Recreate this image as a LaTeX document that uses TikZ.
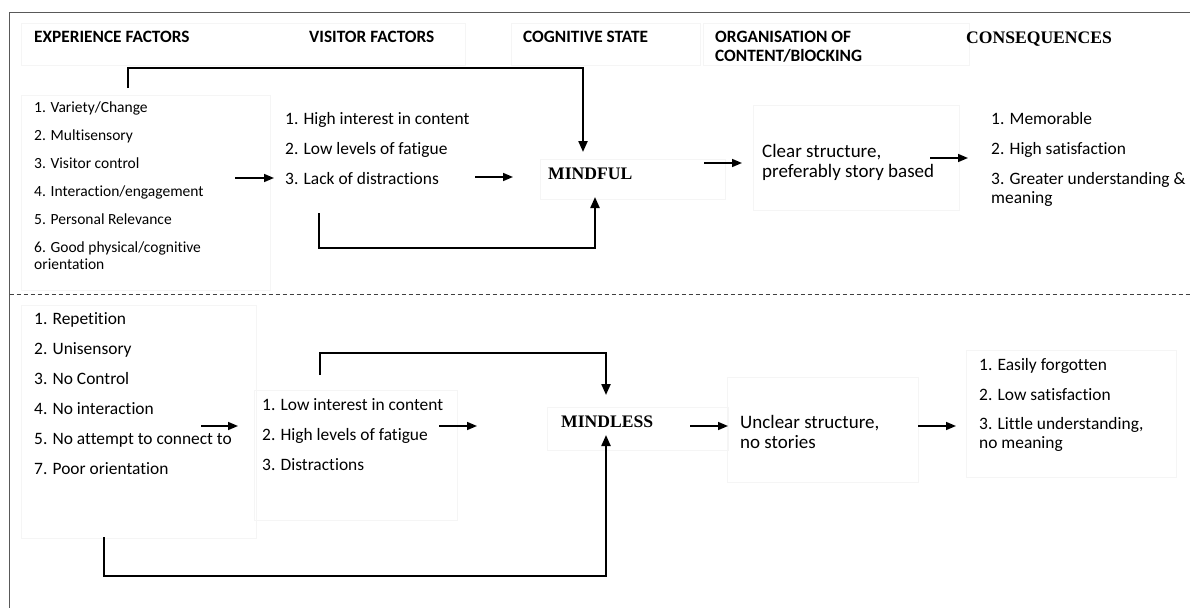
\documentclass[tikz,border=0pt]{standalone}
\usepackage{fontspec}
\setmainfont{Carlito}[Ligatures=NoCommon]
\newfontfamily\tnr{Liberation Serif}
\usetikzlibrary{arrows.meta}
\begin{document}
\begin{tikzpicture}[x=1pt,y=-1pt,
  txt/.style={anchor=base west,inner sep=0pt,font=\fontsize{17.4}{20}\selectfont},
  smtxt/.style={anchor=base west,inner sep=0pt,font=\fontsize{15.5}{18}\selectfont},
  bigtxt/.style={anchor=base west,inner sep=0pt,font=\fontsize{19}{22}\selectfont},
  hdr/.style={anchor=base west,inner sep=0pt,font=\fontsize{17.3}{20}\selectfont\bfseries},
  serifhdr/.style={anchor=base west,inner sep=0pt,font=\fontsize{17.6}{20}\selectfont\tnr\bfseries},
  faint/.style={draw=black!4,line width=0.6pt},
  frame/.style={draw=black!65,line width=1.4pt},
  arr/.style={draw=black,line width=1.6pt,-{Triangle[length=10pt,width=8pt]}},
  looparr/.style={draw=black,line width=2.2pt,-{Triangle[length=11pt,width=9pt]}}
]
\useasboundingbox (0,0) rectangle (1190,608);
% frame
\draw[frame] (1190,12.5) -- (9.5,12.5) -- (9.5,608);
\draw[black!75,line width=0.9pt,dash pattern=on 4pt off 3pt] (9.5,294) -- (1190,294);

% faint boxes
\draw[faint] (21,23) rectangle (465,65);
\draw[faint] (511,23) rectangle (700,65);
\draw[faint] (703,23) rectangle (969,65);
\draw[faint] (21,95) rectangle (270,290);
\draw[faint] (540,159) rectangle (725,199);
\draw[faint] (753,105) rectangle (959,210);
\draw[faint] (21,305) rectangle (256,538);
\draw[faint] (254,390) rectangle (457,520);
\draw[faint] (547,407) rectangle (728,450);
\draw[faint] (727,377) rectangle (918,482);
\draw[faint] (966,350) rectangle (1176,477);

% headers
\node[hdr] (h1) at (34,42.5) {EXPERIENCE FACTORS};
\node[hdr] (h2) at (309,42.5) {VISITOR FACTORS};
\node[hdr] (h3) at (523,42.5) {COGNITIVE STATE};
\node[hdr] (h4) at (715,42.5) {ORGANISATION OF};
\node[hdr] (h4b) at (715,61.5) {CONTENT/BlOCKING};
\node[serifhdr] (h5) at (966,43) {CONSEQUENCES};

% top: experience factors
\node[smtxt] (e1) at (34,112) {1. Variety/Change};
\node[smtxt] (e2) at (34,140) {2. Multisensory};
\node[smtxt] (e3) at (34,168) {3. Visitor control};
\node[smtxt] (e4) at (34,196) {4. Interaction/engagement};
\node[smtxt] (e5) at (34,224) {5. Personal Relevance};
\node[smtxt] (e6) at (34,252) {6. Good physical/cognitive};
\node[smtxt] (e6b) at (34,269) {orientation};

% top: visitor factors
\node[txt] (v1) at (285,124) {1. High interest in content};
\node[txt] (v2) at (285,154) {2. Low levels of fatigue};
\node[txt] (v3) at (285,184) {3. Lack of distractions};

\node[serifhdr] (mindful) at (548,179) {MINDFUL};

\node[bigtxt] (c1) at (762,157) {Clear structure,};
\node[bigtxt] (c1b) at (762,177) {preferably story based};

\node[txt] (q1) at (991,124) {1. Memorable};
\node[txt] (q2) at (991,154) {2. High satisfaction};
\node[txt] (q3) at (991,184) {3. Greater understanding \&};
\node[txt] (q3b) at (991,203) {meaning};

% bottom: experience factors
\node[txt] (n1) at (34,324) {1. Repetition};
\node[txt] (n2) at (34,354) {2. Unisensory};
\node[txt] (n3) at (34,384) {3. No Control};
\node[txt] (n4) at (34,414) {4. No interaction};
\node[txt] (n5) at (34,444) {5. No attempt to connect to};
\node[txt] (n7) at (34,474) {7. Poor orientation};

\node[txt] (w1) at (262,410) {1. Low interest in content};
\node[txt] (w2) at (262,440) {2. High levels of fatigue};
\node[txt] (w3) at (262,470) {3. Distractions};

\node[serifhdr] (mindless) at (561,427) {MINDLESS};

\node[bigtxt] (u1) at (740,428) {Unclear structure,};
\node[bigtxt] (u1b) at (740,448) {no stories};

\node[txt] (r1) at (979,370) {1. Easily forgotten};
\node[txt] (r2) at (979,400) {2. Low satisfaction};
\node[txt] (r3) at (979,429) {3. Little understanding,};
\node[txt] (r3b) at (979,448) {no meaning};

% connector coordinates (top)
\coordinate (t1s) at (128,88);
\coordinate (t1e) at (583,152);
\coordinate (a1s) at (235,178); \coordinate (a1e) at (274,178);
\coordinate (a2s) at (475,177); \coordinate (a2e) at (513,177);
\coordinate (t2s) at (319,213);
\coordinate (t2e) at (595,197);
\coordinate (a3s) at (704,163); \coordinate (a3e) at (742,163);
\coordinate (a4s) at (930,158); \coordinate (a4e) at (968,158);
% connector coordinates (bottom)
\coordinate (b1s) at (320,375);
\coordinate (b1e) at (606,395);
\coordinate (a5s) at (201,426); \coordinate (a5e) at (238,426);
\coordinate (a6s) at (439,426); \coordinate (a6e) at (477,426);
\coordinate (b2s) at (104,537);
\coordinate (b2e) at (606,435);
\coordinate (a7s) at (690,426); \coordinate (a7e) at (728,426);
\coordinate (a8s) at (918,426); \coordinate (a8e) at (956,426);

% top connectors
\draw[looparr] (t1s) -- (t1s |- 0,68) -- (t1e |- 0,68) -- (t1e);
\draw[arr] (a1s) -- (a1e);
\draw[arr] (a2s) -- (a2e);
\draw[looparr] (t2s) -- (t2s |- 0,248) -- (t2e |- 0,248) -- (t2e);
\draw[arr] (a3s) -- (a3e);
\draw[arr] (a4s) -- (a4e);
% bottom connectors
\draw[looparr] (b1s) -- (b1s |- 0,353) -- (b1e |- 0,353) -- (b1e);
\draw[arr] (a5s) -- (a5e);
\draw[arr] (a6s) -- (a6e);
\draw[looparr] (b2s) -- (b2s |- 0,576) -- (b2e |- 0,576) -- (b2e);
\draw[arr] (a7s) -- (a7e);
\draw[arr] (a8s) -- (a8e);
\end{tikzpicture}
\end{document}
